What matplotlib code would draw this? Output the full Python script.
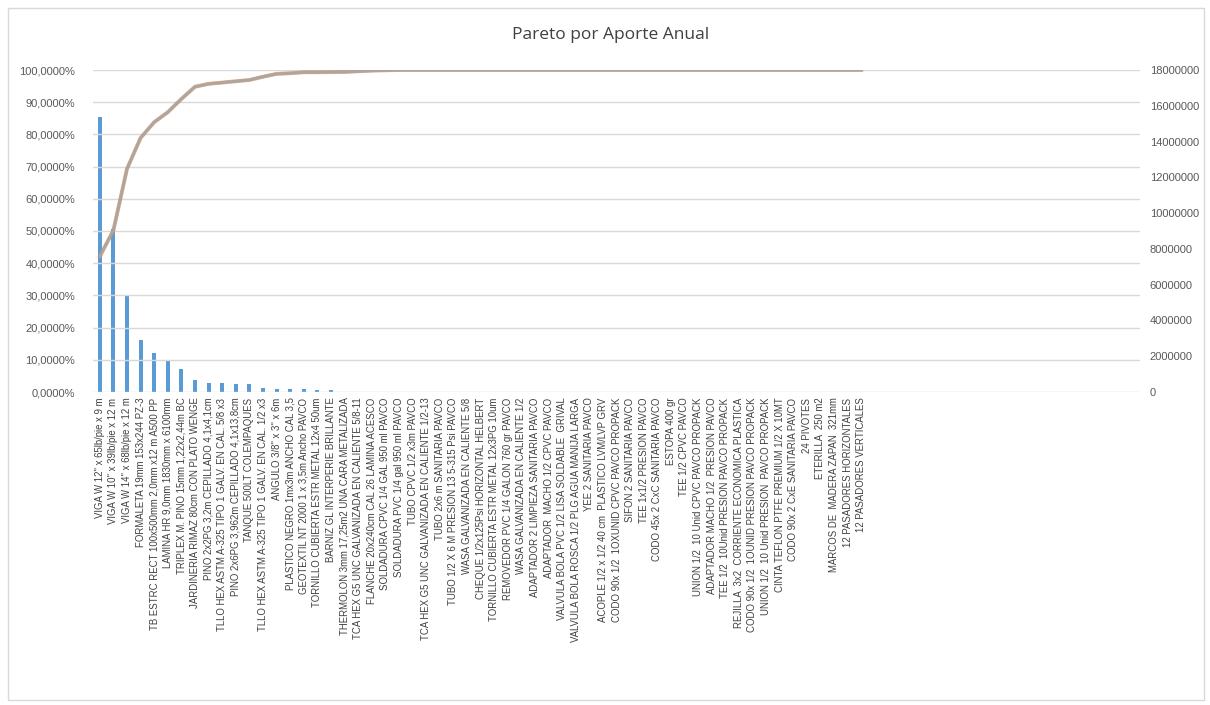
import matplotlib.pyplot as plt
import matplotlib.ticker as mticker
from matplotlib.patches import Rectangle

# Data
labels = [
    'VIGA W 12" x 65lb/pie x 9 m',
    'VIGA W 10" x 39lb/pie x 12 m',
    'VIGA W 14" x 68lb/pie x 12 m',
    'FORMALETA 19mm 153x244 PZ-3',
    'TB ESTRC RECT 100x500mm 2,0mm x12 m A500 PP',
    'LAMINA HR 9,0mm 1830mm x 6100mm',
    'TRIPLEX M. PINO 15mm 1,22x2,44m BC',
    'JARDINERIA RIMAZ 80cm CON PLATO WENGE',
    'PINO 2x2PG 3,2m CEPILLADO 4,1x4,1cm',
    'TLLO HEX ASTM A-325 TIPO 1 GALV. EN CAL. 5/8 x3',
    'PINO 2x6PG 3,962m CEPILLADO 4,1x13,8cm',
    'TANQUE 500LT COLEMPAQUES',
    'TLLO HEX ASTM A-325 TIPO 1 GALV. EN CAL. 1/2 x3',
    'ANGULO 3/8" x 3" x 6m',
    'PLASTICO NEGRO 1mx3m ANCHO CAL 3,5',
    'GEOTEXTIL NT 2000 1 x 3,5m Ancho PAVCO',
    'TORNILLO CUBIERTA ESTR METAL 12x4 50um',
    'BARNIZ GL INTERPERIE BRILLANTE',
    'THERMOLON 3mm 17,25m2 UNA CARA METALIZADA',
    'TCA HEX G5 UNC GALVANIZADA EN CALIENTE 5/8-11',
    'FLANCHE 20x240cm CAL 26 LAMINA ACESCO',
    'SOLDADURA CPVC 1/4 GAL 950 ml PAVCO',
    'SOLDADURA PVC 1/4 gal 950 ml PAVCO',
    'TUBO CPVC 1/2 x3m PAVCO',
    'TCA HEX G5 UNC GALVANIZADA EN CALIENTE 1/2-13',
    'TUBO 2x6 m SANITARIA PAVCO',
    'TUBO 1/2 X 6 M PRESION 13 5-315 Psi PAVCO',
    'WASA GALVANIZADA EN CALIENTE 5/8',
    'CHEQUE 1/2x125Psi HORIZONTAL HELBERT',
    'TORNILLO CUBIERTA ESTR METAL 12x3PG 10um',
    'REMOVEDOR PVC 1/4 GALON 760 gr PAVCO',
    'WASA GALVANIZADA EN CALIENTE 1/2',
    'ADAPTADOR 2 LIMPIEZA SANITARIA PAVCO',
    'ADAPTADOR  MACHO 1/2 CPVC PAVCO',
    'VALVULA BOLA PVC 1/2 LISA SOLDABLE  GRIVAL',
    'VALVULA BOLA ROSCA 1/2 PLG AGUA MANIJA LARGA',
    'YEE 2 SANITARIA PAVCO',
    'ACOPLE 1/2 x 1/2 40 cm  PLASTICO LVM/LVP GRV',
    'CODO 90x 1/2  1OXUNID CPVC PAVCO PROPACK',
    'SIFON 2 SANITARIA PAVCO',
    'TEE 1x1/2 PRESION PAVCO',
    'CODO 45x 2 CxC SANITARIA PAVCO',
    'ESTOPA 400 gr',
    'TEE 1/2 CPVC PAVCO',
    'UNION 1/2  10 Unid CPVC PAVCO PROPACK',
    'ADAPTADOR MACHO 1/2  PRESION PAVCO',
    'TEE 1/2  10Unid PRESION PAVCO PROPACK',
    'REJILLA  3x2  CORRIENTE ECONOMICA PLASTICA',
    'CODO 90x 1/2  1OUNID PRESION PAVCO PROPACK',
    'UNION 1/2  10 Unid PRESION  PAVCO PROPACK',
    'CINTA TEFLON PTFE PREMIUM 1/2 X 10MT',
    'CODO 90x 2 CxE SANITARIA PAVCO',
    '24 PIVOTES',
    'ETERILLA  250 m2',
    'MARCOS DE  MADERA ZAPAN  321mm',
    '12 PASADORES HORIZONTALES',
    '12 PASADORES VERTICALES',
]
# empty category slots at the end of the axis
empty_slots = 20

aporte = [15360000, 9090000, 5350000, 2880000, 2200000, 1710000, 1300000,
          680000, 520000, 520000, 450000, 450000, 250000, 180000, 180000,
          180000, 90000, 90000, 15000, 12000, 10000, 9000, 8000, 7000,
          6000, 5500, 5000, 4500, 4000, 3500, 3000, 2800, 2600, 2400,
          2200, 2000, 1800, 1600, 1500, 1400, 1300, 1200, 1100, 1000, 900,
          800, 700, 600, 500, 450, 400, 350, 300, 250, 200, 100, 50]

acumulado = [42.1, 50.2, 69.3, 78.9, 83.8, 86.9, 91.0, 94.8, 95.7, 96.1,
             96.5, 96.9, 97.9, 98.8, 99.0, 99.3, 99.3, 99.35, 99.4, 99.6,
             99.8, 99.9, 100, 100, 100, 100, 100, 100, 100, 100, 100, 100,
             100, 100, 100, 100, 100, 100, 100, 100, 100, 100, 100, 100, 100,
             100, 100, 100, 100, 100, 100, 100, 100, 100, 100, 100, 100]

all_labels = labels + [''] * empty_slots
x = list(range(len(all_labels)))
xn = list(range(len(labels)))

fig = plt.figure(figsize=(12.1, 7.05), dpi=100)
fig.patches.append(Rectangle((8 / 1210, 5 / 705), 1196 / 1210, 692 / 705,
                             transform=fig.transFigure, fill=False,
                             edgecolor='#D9D9D9', linewidth=1))

ax = fig.add_axes([93 / 1210, 1 - 392 / 705, (1140 - 93) / 1210, (392 - 70) / 705])
ax2 = ax.twinx()

# bars on the right axis
ax2.bar(xn, aporte, width=0.3, color='#5B9BD5', zorder=2)
ax2.set_ylim(0, 18000000)
ax2.set_yticks(range(0, 18000001, 2000000))
ax2.yaxis.set_major_formatter(mticker.FuncFormatter(lambda v, p: '%d' % v))

# cumulative lines on the left axis
ax.plot(xn, acumulado, color='#ED7D31', linewidth=2.8, alpha=0.6, zorder=3)
ax.plot(xn, acumulado, color='#A5A5A5', linewidth=2.2, alpha=0.9, zorder=4)
ax.set_ylim(0, 100)
ax.set_yticks(range(0, 101, 10))
ax.yaxis.set_major_formatter(mticker.FuncFormatter(lambda v, p: ('%.4f%%' % v).replace('.', ',')))
ax.set_zorder(ax2.get_zorder() + 1)
ax.patch.set_visible(False)

ax.set_xlim(-0.5, len(all_labels) - 0.5)
ax.set_xticks(x)
ax.set_xticklabels(all_labels, rotation=90, fontsize=6.9, family='Liberation Sans', color='#404040')
ax.grid(axis='y', color='#D9D9D9', linewidth=1)
ax.set_axisbelow(True)

for a in (ax, ax2):
    for s in a.spines.values():
        s.set_visible(False)
    a.tick_params(length=0)
ax.tick_params(axis='y', labelsize=8, labelcolor='#595959', pad=13)
ax.tick_params(axis='x', pad=4)
ax2.tick_params(axis='y', labelsize=8, labelcolor='#595959', pad=7)
for t in ax.get_yticklabels() + ax2.get_yticklabels():
    t.set_family('Liberation Sans')

fig.text(0.505, 1 - 35 / 705, 'Pareto por Aporte Anual', ha='center', va='center',
         fontsize=12.5, family='Open Sans', color='#404040')

fig.savefig('out.png', dpi=100)
